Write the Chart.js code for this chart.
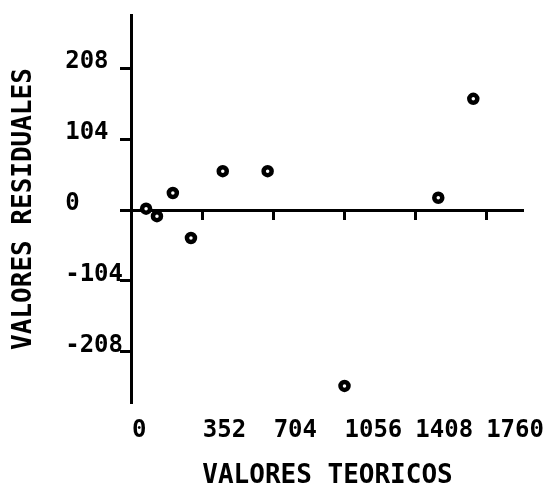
<!DOCTYPE html>
<html>
<head>
<meta charset="utf-8">
<script src="https://cdn.jsdelivr.net/npm/chart.js@4/dist/chart.umd.min.js"></script>
<style>
  html, body { margin: 0; padding: 0; background: #fff; }
  #wrap { width: 550px; height: 492px; position: relative; }
</style>
</head>
<body>
<div id="wrap"><canvas id="c"></canvas></div>
<script>
// ---- data ----
const xValues = [70, 124, 203, 293, 451, 674, 1056, 1522, 1696];
const yValues = [2, -9, 25, -41, 57, 57, -258, 18, 163];
const xTicks = [0, 352, 704, 1056, 1408, 1760];
const xTickLabels = ['0', '352', '704', '1056', '1408', '1760'];
const yTicks = [-208, -104, 0, 104, 208];
const yTickLabels = ['-208', '-104', '0', '104', '208'];
const xTitle = 'VALORES TEORICOS';
const yTitle = 'VALORES RESIDUALES';

const points = xValues.map((x, i) => ({ x: x, y: yValues[i] }));

Chart.defaults.color = '#000';
const tickFont = { family: 'DejaVu Sans Mono', weight: 'bold', size: 24 };
const titleFont = { family: 'DejaVu Sans Mono', weight: 'bold', size: 26 };

new Chart(document.getElementById('c'), {
  type: 'scatter',
  data: {
    datasets: [{
      data: points,
      xAxisID: 'x',
      yAxisID: 'y',
      pointStyle: 'circle',
      pointRadius: 4,
      pointBorderWidth: 4.5,
      pointBackgroundColor: '#fff',
      pointBorderColor: '#000'
    }]
  },
  options: {
    responsive: true,
    maintainAspectRatio: false,
    animation: false,
    layout: { padding: { top: 15, right: 27, bottom: 0, left: 0 } },
    plugins: { legend: { display: false }, tooltip: { enabled: false } },
    scales: {
      x: {
        type: 'linear',
        position: 'bottom',
        min: 0,
        max: 1943,
        afterBuildTicks: s => { s.ticks = xTicks.map(v => ({ value: v })); },
        ticks: {
          autoSkip: false,
          maxRotation: 0,
          align: 'start',
          padding: 0,
          font: tickFont,
          callback: (v, i) => xTickLabels[i]
        },
        grid: { drawOnChartArea: false, drawTicks: true, tickLength: 13, tickColor: 'rgba(0,0,0,0)' },
        border: { display: false },
        title: { display: true, text: xTitle, font: titleFont, padding: { top: 16, bottom: 0 } }
      },
      xLine: {
        type: 'linear',
        axis: 'x',
        position: { y: 0 },
        min: 0,
        max: 1943,
        afterBuildTicks: s => { s.ticks = xTicks.map(v => ({ value: v })); },
        ticks: { display: false },
        grid: { drawOnChartArea: false, drawTicks: true, tickLength: 8, tickColor: '#000', tickWidth: 3 },
        border: { display: true, color: '#000', width: 3 }
      },
      y: {
        type: 'linear',
        position: 'left',
        weight: 0,
        min: -283,
        max: 286,
        afterBuildTicks: s => { s.ticks = yTicks.map(v => ({ value: v })); },
        ticks: {
          crossAlign: 'far',
          padding: -1.5,
          font: Object.assign({}, tickFont, { lineHeight: '12px' }),
          callback: (v, i) => [yTickLabels[i], '']
        },
        grid: { drawOnChartArea: false, drawTicks: true, tickLength: 12, tickColor: '#000', tickWidth: 3 },
        border: { display: true, color: '#000', width: 3 }
      },
      yTitleAxis: {
        type: 'linear',
        axis: 'y',
        position: 'left',
        weight: 1,
        min: -283,
        max: 286,
        ticks: { display: false },
        grid: { display: false, drawTicks: false, drawOnChartArea: false },
        border: { display: false },
        title: { display: true, text: yTitle, font: titleFont, padding: { top: 9, bottom: 25 } }
      }
    }
  }
});
</script>
</body>
</html>
